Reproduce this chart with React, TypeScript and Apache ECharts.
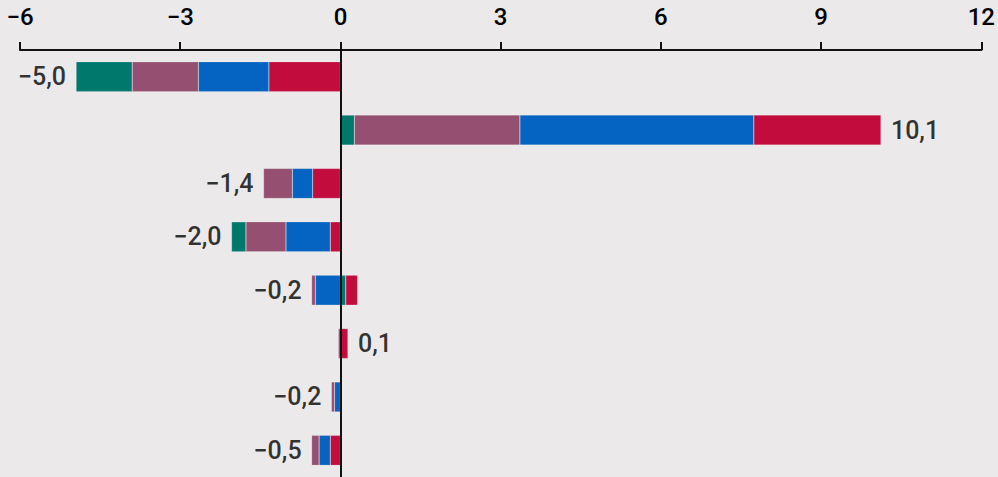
import React, { useEffect, useRef } from "react";
import * as echarts from "echarts";

const categories = ["A", "B", "C", "D", "E", "F", "G", "H"];
const teal = [-1.05, 0.26, 0, -0.27, 0.1, 0, 0, 0];
const mauve = [-1.24, 3.1, -0.54, -0.75, -0.07, -0.04, -0.06, -0.14];
const blue = [-1.32, 4.38, -0.38, -0.83, -0.47, 0, -0.11, -0.21];
const red = [-1.34, 2.38, -0.52, -0.19, 0.22, 0.14, 0, -0.19];
const totals = [-5.0, 10.1, -1.4, -2.0, -0.2, 0.1, -0.2, -0.5];
const xTicks = { min: -6, max: 12, interval: 3 };

const COLORS = { teal: "#00786c", mauve: "#955071", blue: "#0563c1", red: "#c30c3e" };
const FONT = "Roboto, 'DejaVu Sans Condensed', sans-serif";
const TEXT = "#000000";

const fmt = (v: number, digits?: number) => {
  const s = digits === undefined ? String(v) : v.toFixed(digits);
  return s.replace(".", ",").replace("-", "\u2212");
};

export default function App() {
  const ref = useRef<HTMLDivElement>(null);
  useEffect(() => {
    if (!ref.current) return;
    const chart = echarts.init(ref.current, undefined, { renderer: "svg" });

    const groups: { name: string; data: number[]; color: string }[] = [
      { name: "teal", data: teal, color: COLORS.teal },
      { name: "mauve", data: mauve, color: COLORS.mauve },
      { name: "blue", data: blue, color: COLORS.blue },
      { name: "red", data: red, color: COLORS.red },
    ];

    const barBase = {
      type: "bar" as const,
      stack: "total",
      barWidth: 30,
      itemStyle: { borderColor: "rgba(255,255,255,0.35)", borderWidth: 0.5 },
      silent: true,
    };

    const posSeries = groups.map((g) => ({
      ...barBase,
      name: g.name + "+",
      color: g.color,
      data: g.data.map((v) => (v > 0 ? v : "-")),
    }));
    const negSeries = [...groups].reverse().map((g) => ({
      ...barBase,
      name: g.name + "-",
      color: g.color,
      data: g.data.map((v) => (v < 0 ? v : "-")),
    }));

    const labelData = categories.map((_, i) => {
      const vals = groups.map((g) => g.data[i]);
      const pos = vals.filter((v) => v > 0).reduce((a, b) => a + b, 0);
      const neg = vals.filter((v) => v < 0).reduce((a, b) => a + b, 0);
      const t = totals[i];
      return {
        value: [t < 0 ? neg : pos, i],
        label: { position: t < 0 ? "left" : "right" },
      };
    });

    chart.setOption({
      animation: false,
      backgroundColor: "#ebe9ea",
      grid: { left: 20, right: 14, top: 50, height: 430, containLabel: false },
      xAxis: {
        type: "value",
        position: "top",
        min: xTicks.min,
        max: xTicks.max,
        interval: xTicks.interval,
        axisLine: { show: true, lineStyle: { color: "#111", width: 2 } },
        axisTick: { show: true, length: 8, lineStyle: { color: "#111", width: 2 } },
        splitLine: { show: false },
        axisLabel: {
          margin: 21,
          color: TEXT,
          fontSize: 24,
          fontWeight: 500,
          fontFamily: FONT,
          formatter: (v: number) => fmt(v),
        },
      },
      yAxis: {
        type: "category",
        inverse: true,
        data: categories,
        z: 10,
        axisLine: { show: true, onZero: true, lineStyle: { color: "#111", width: 2 } },
        axisTick: { show: false },
        axisLabel: { show: false },
        splitLine: { show: false },
      },
      series: [
        ...posSeries,
        ...negSeries,
        {
          type: "scatter",
          name: "totals",
          symbolSize: 0,
          silent: true,
          z: 20,
          data: labelData,
          label: {
            show: true,
            distance: 10,
            color: TEXT,
            fontSize: 25,
            fontWeight: 500,
            fontFamily: FONT,
            formatter: (p: any) => fmt(totals[p.dataIndex], 1),
          },
        },
      ],
    });
    return () => chart.dispose();
  }, []);

  return (
    <div
      ref={ref}
      style={{ position: "fixed", left: 0, top: 0, width: 998, height: 477 }}
    />
  );
}
